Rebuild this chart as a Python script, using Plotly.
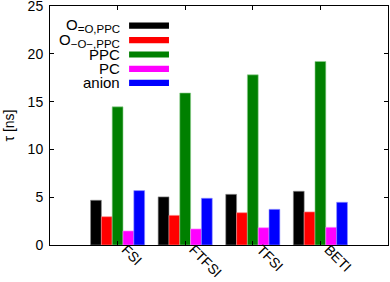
import plotly.graph_objects as go

categories = ["FSI", "FTFSI", "TFSI", "BETI"]
series_names = ["O<sub>=O,PPC</sub>", "O<sub>−O−,PPC</sub>", "PPC", "PC", "anion"]
o_eq = [4.68, 5.03, 5.30, 5.62]
o_single = [2.96, 3.10, 3.38, 3.46]
ppc = [14.45, 15.9, 17.8, 19.2]
pc = [1.47, 1.68, 1.81, 1.85]
anion = [5.69, 4.89, 3.73, 4.47]
series_values = [o_eq, o_single, ppc, pc, anion]
colors = ["#000000", "#ff0000", "#008000", "#ff00ff", "#0000ff"]
edge_colors = ["#888888", "#ff9090", "#90d090", "#ff90ff", "#9090ff"]
y_ticks = [0, 5, 10, 15, 20, 25]

FONT = "Liberation Sans, Arial, sans-serif"

fig = go.Figure()
xs = list(range(len(categories)))
for name, vals, c, ec in zip(series_names, series_values, colors, edge_colors):
    fig.add_trace(go.Bar(x=xs, y=vals, name=name, marker=dict(color=c, line=dict(color=ec, width=0.6)),
                         showlegend=False))

# custom legend (gnuplot style: text left, swatch right)
row_y = [0.918, 0.857, 0.797, 0.737, 0.678]
for name, c, yy in zip(series_names, colors, row_y):
    fig.add_shape(type="rect", xref="paper", yref="paper", x0=0.234, x1=0.352,
                  y0=yy - 0.013, y1=yy + 0.013, fillcolor=c, line=dict(width=0))
    label = name.replace("<sub>", "<sub><span style='font-size:11.5px'>").replace("</sub>", "</span></sub>")
    fig.add_annotation(xref="paper", yref="paper", x=0.213, y=yy, text=label, showarrow=False,
                       xanchor="right", yanchor="middle", font=dict(family=FONT, size=15, color="black"))

fig.add_annotation(xref="paper", yref="paper", x=(8 - 50) / 338, y=0.5, text="τ [ns]", textangle=-90,
                   showarrow=False, xanchor="center", yanchor="middle",
                   font=dict(family=FONT, size=14, color="black"))

fig.update_layout(
    width=390, height=282,
    margin=dict(l=50, r=2, t=6, b=37, autoexpand=False),
    plot_bgcolor="white", paper_bgcolor="white",
    barmode="group", bargap=0.2, bargroupgap=0,
    font=dict(family=FONT, size=14, color="black"),
    xaxis=dict(range=[-1, 4], tickmode="array", tickvals=xs, ticktext=categories, tickangle=45,
               ticks="inside", ticklen=4, tickcolor="black", showline=True, linecolor="black",
               linewidth=1, mirror="ticks", showgrid=False, zeroline=False,
               ticklabelstandoff=-10, ticklabelshift=8, ticklabeloverflow="allow"),
    yaxis=dict(range=[0, 25], tickvals=y_ticks, ticks="inside", ticklen=4, tickcolor="black",
               showline=True, linecolor="black", linewidth=1, mirror="ticks", showgrid=False,
               zeroline=False, ticklabeloverflow="allow", ticklabelstandoff=3),
)

fig.write_html("out.html", config={"displayModeBar": False},
               post_script="document.body.style.margin='0';")
